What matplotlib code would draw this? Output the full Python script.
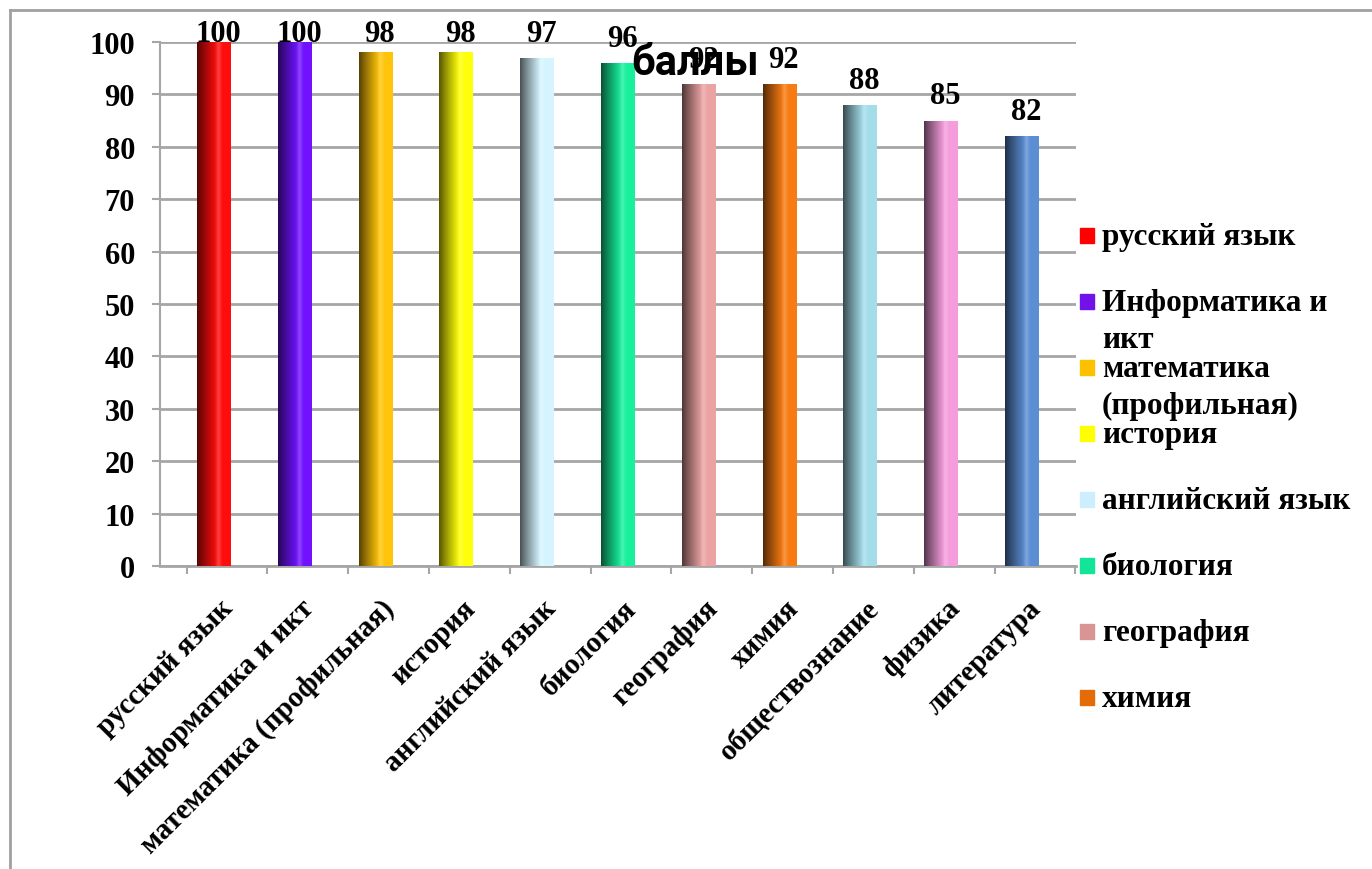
import numpy as np
import matplotlib
matplotlib.use("Agg")
import matplotlib.pyplot as plt
from matplotlib.patches import Rectangle
from matplotlib.lines import Line2D
from matplotlib.colors import to_rgb

subjects = ["русский язык", "Информатика и икт", "математика (профильная)", "история",
            "английский язык", "биология", "география", "химия",
            "обществознание", "физика", "литература"]
scores = [100, 100, 98, 98, 97, 96, 92, 92, 88, 85, 82]
# the legend is cut off after 8 entries in the original
legend_labels = ["русский язык", "Информатика и\nикт", "математика\n(профильная)", "история",
                 "английский язык", "биология", "география", "химия"]

colors = ["#FF0D0D", "#7012FF", "#FFC40A", "#FFFF0A", "#D5F4FF", "#18F09C",
          "#EBA2A2", "#F77B12", "#A3DDEA", "#F59CDC", "#5B8ED3"]
legend_colors = ["#FF0000", "#7012E8", "#FFC000", "#FFFF00", "#CCEEFF",
                 "#12E597", "#D99594", "#E36C09"]

W, H = 1372, 870
plt.rcParams['font.family'] = ['Liberation Serif', 'DejaVu Serif']
plt.rcParams['font.weight'] = 'bold'
FS = 22

fig = plt.figure(figsize=(W / 100, H / 100), dpi=100)
ax = fig.add_axes([160 / W, 1 - 567 / H, (1076 - 160) / W, 524 / H])

x = np.arange(len(subjects))
bars = ax.bar(x, scores, width=0.42, color=colors, zorder=3)

# fake cylinder shading: dark left edge, light band right of centre
t = np.linspace(0, 1, 80)
shade = np.where(t < 0.6, 0.33 + 0.67 * (t / 0.6) ** 0.9, 1.0)
gloss = np.exp(-((t - 0.64) / 0.07) ** 2) * 0.2
for b, c in zip(bars, colors):
    rgb = np.array(to_rgb(c))
    row = rgb[None, :] * shade[:, None]
    row = row + (1 - row) * gloss[:, None]
    img = np.clip(row, 0, 1)[None, :, :]
    im = ax.imshow(img, extent=(b.get_x(), b.get_x() + b.get_width(), 0, b.get_height()),
                   aspect='auto', zorder=4, interpolation='bilinear')
    im.set_clip_path(b)

# value labels sit a bit above the bars but are kept under the top of the plot
label_y = np.minimum(np.array(scores) + 3.3, 100.2)
for xi, v, ly in zip(x, scores, label_y):
    ax.annotate(str(v), (xi, ly), xytext=(3, 0), textcoords='offset points',
                ha='center', va='baseline', fontsize=FS, fontweight='bold',
                annotation_clip=False, zorder=6)

ax.set_xlim(-0.668, 10.668)
ax.set_ylim(0, 100)
ax.set_yticks(range(0, 101, 10))
ax.yaxis.grid(True, color='#A6A6A6', lw=2)
ax.set_axisbelow(True)
ax.tick_params(axis='y', direction='out', length=6, width=1.5, color='#A6A6A6',
               pad=12, labelsize=FS)
# category boundaries are offset from the bars (3-D cylinder look in the original)
ax.set_xticks(np.arange(12) - 0.34)
ax.set_xticklabels([])
ax.tick_params(axis='x', direction='out', length=6, width=1.5, color='#A6A6A6')
for s in ['top', 'right']:
    ax.spines[s].set_visible(False)
ax.spines['left'].set_color('#A6A6A6')
ax.spines['left'].set_linewidth(1.5)
ax.spines['bottom'].set_color('#A6A6A6')
ax.spines['bottom'].set_linewidth(2)

# rotated category names, anchored at the category centres
for xi, s in zip(x, subjects):
    ax.text(xi + 0.18, -0.072, s, transform=ax.get_xaxis_transform(), rotation=45,
            rotation_mode='anchor', ha='right', va='center', fontsize=21)

# legend drawn by hand, wrapped lines stacked under the first one
for i, (lab, c) in enumerate(zip(legend_labels, legend_colors)):
    cy = 236 + 66 * i
    fig.add_artist(Rectangle((1080 / W, 1 - (cy + 7.5) / H), 14 / W, 15 / H,
                             transform=fig.transFigure, color=c))
    for j, line in enumerate(lab.split("\n")):
        fig.text(1102 / W, 1 - (cy + 9 + 37 * j) / H, line, ha='left', va='baseline',
                 fontsize=FS + 0.5)

fig.text(695 / W, 1 - 75 / H, "баллы", family=['Roboto', 'DejaVu Sans'],
         fontweight='bold', fontsize=30, ha='center', va='baseline', zorder=10)

# chart frame (only top and left edges visible)
fig.add_artist(Line2D([10 / W, 10 / W], [0, 1 - 11 / H], color='#A0A0A0', lw=2,
                      transform=fig.transFigure))
fig.add_artist(Line2D([10 / W, 1], [1 - 11 / H, 1 - 11 / H], color='#A0A0A0', lw=2,
                      transform=fig.transFigure))

fig.savefig("out.png", dpi=100)
